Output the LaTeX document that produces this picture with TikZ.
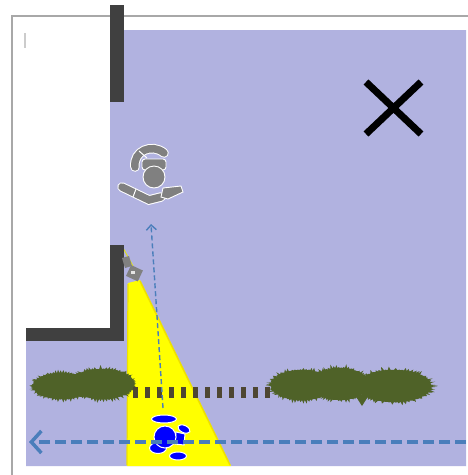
\documentclass[tikz,border=0pt]{standalone}
\usetikzlibrary{arrows.meta}
\definecolor{floor}{HTML}{B1B2E0}
\definecolor{wallgray}{HTML}{404040}
\definecolor{framegray}{HTML}{A8A8A8}
\definecolor{bushgreen}{HTML}{4F6228}
\definecolor{fencebrown}{HTML}{4E4632}
\definecolor{pathblue}{HTML}{4A7EBB}
\definecolor{ghostgray}{HTML}{808080}
\definecolor{beamyellow}{HTML}{FFFF00}
\definecolor{beamedge}{HTML}{EEE000}
\newcommand\drawshrub[5]{%
  \pgfmathsetseed{#5}%
  \fill[bushgreen] plot[domain=0:357.5, samples=144]
    ({#1+#3*(1+0.18*rnd*mod(round(\x/2.5),2))*cos(\x)},
     {#2+#4*(1+0.28*rnd*mod(round(\x/2.5),2))*sin(\x)}) -- cycle;}
\tikzset{
  wall/.style={fill=wallgray},
  post/.style={fill=fencebrown},
  ghostpart/.style={fill=ghostgray, draw=white, line width=0.9},
  walkerpart/.style={fill=blue, draw=white, line width=1},
  walkpath/.style={pathblue, line width=3.5, dash pattern=on 11 off 5,
    -{Straight Barb[length=10, width=22, line width=3.5]}},
  lookpath/.style={pathblue, line width=1.4, dash pattern=on 5 off 3,
    -{Straight Barb[length=5, width=10, line width=1.4]}},
}
\begin{document}
\begin{tikzpicture}[x=1pt, y=-1pt]
\useasboundingbox (0,0) rectangle (468,475);
\fill[white] (0,0) rectangle (468,475);

% floor area
\fill[floor] (110,30) -- (466,30) -- (466,466) -- (26,466) -- (26,328) -- (110,328) -- cycle;

% page frame
\draw[framegray, line width=2] (12,475) -- (12,16) -- (468,16);
\draw[black!20, line width=1.2] (25,33) -- (25,48);

% camera beam
\fill[beamyellow] (128,283) -- (140,280) -- (231,466) -- (127,466) -- cycle;
\draw[beamedge, line width=1.5] (140,281) -- (230,465);
\draw[beamedge, line width=1.2] (128,284) -- (127,465);
\draw[beamyellow!90!black, line width=0.8] (122,246) -- (133,266);

% hedges
\drawshrub{62}{386}{29}{13}{3}
\drawshrub{102}{384}{32}{15}{5}
\drawshrub{302}{385}{31}{15}{7}
\drawshrub{340}{384}{28}{16}{11}
\drawshrub{394}{386}{37}{16}{13}
\fill[bushgreen] (355,395) -- (362,406) -- (369,395) -- cycle;

% fence posts
\foreach \i in {0,...,11}
  \fill[post] ({133+12*\i},387) rectangle ({137.5+12*\i},398);

% walls
\fill[wall] (110,5) rectangle (123.5,102);
\fill[wall] (110,245) rectangle (123.5,341);
\fill[wall] (26,328) rectangle (123.5,341);

% camera
\fill[ghostgray] (122,258) -- (129,256) -- (132,266) -- (125,268) -- cycle;
\fill[ghostgray, rotate around={-25:(134,273)}] (128,267) rectangle (141,279);
\fill[white!80!ghostgray] (131,271) rectangle (135,274);

% gray figure
\node[inner sep=0, minimum size=0] (ghost) at (154,177) {};
\draw[white, line width=9.5, line cap=round] (135,167) .. controls (133,151) and (152,143) .. (164,153);
\draw[ghostgray, line width=7.5, line cap=round] (135,167) .. controls (133,151) and (152,143) .. (164,153);
\draw[white, line width=1] (139,151) -- (147,158);
\draw[ghostpart, rounded corners=3] (142,159) rectangle (166,170);
\draw[white, line width=9.5, line cap=round] (122,187) -- (149,200) -- (161,197);
\draw[ghostgray, line width=7.5, line cap=round] (122,187) -- (149,200) -- (161,197);
\draw[white, line width=1] (136,189) -- (133,197);
\draw[ghostpart] (163,188) -- (181,186) -- (183,192) -- (168,199) -- (161,197) -- cycle;
\draw[ghostpart] (154,177) circle (11);

% blue figure
\node[inner sep=0, minimum size=0] (walker) at (165,437) {};
\draw[walkerpart] (164,419) ellipse (12.5 and 4);
\draw[walkerpart, rotate around={-25:(184,429)}] (184,429) ellipse (6.5 and 3.6);
\draw[walkerpart] (176,432) -- (185,434) -- (184,445) -- (175,444) -- cycle;
\draw[walkerpart] (178,456) ellipse (8.5 and 4);
\draw[walkerpart] (158,448) ellipse (8.5 and 5.5);
\draw[walkerpart] (165,437) circle (11);

% paths
\coordinate (lookstart) at (163,408);
\coordinate (lookend) at (151,224);
\coordinate (walkstart) at (466,442);
\coordinate (walkend) at (29,442);
\draw[lookpath] (lookstart) -- (lookend);
\draw[walkpath] (walkstart) -- (walkend);

% cross mark
\node[inner sep=0] (cross) at (393.5,108) {};
\draw[black, line width=7] (366,82) -- (421,134);
\draw[black, line width=7] (421,82) -- (366,134);
\end{tikzpicture}
\end{document}
